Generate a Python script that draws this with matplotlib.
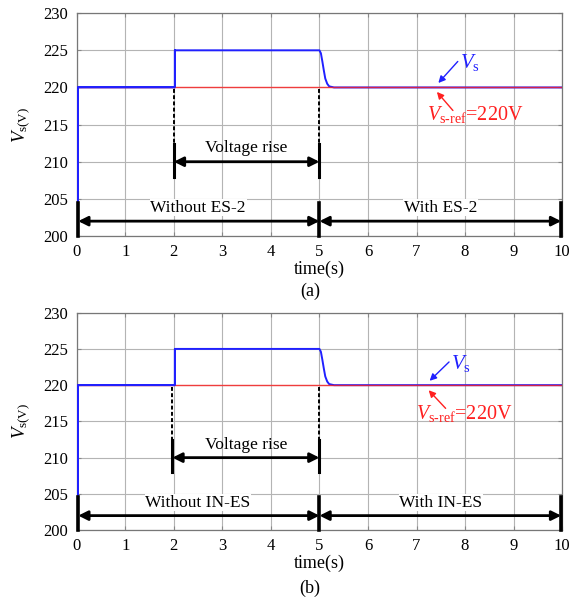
import matplotlib
matplotlib.use("Agg")
import matplotlib.pyplot as plt

plt.rcParams['font.family'] = ['Liberation Serif', 'DejaVu Serif']
plt.rcParams['mathtext.fontset'] = 'custom'
plt.rcParams['mathtext.rm'] = 'Liberation Serif'
plt.rcParams['mathtext.it'] = 'Liberation Serif:italic'

# measured voltage Vs (same shape in both panels)
t_vs = [0.0, 0.02, 0.02, 2.02, 2.02, 5.0, 5.03, 5.06, 5.09, 5.12, 5.16, 5.2, 5.3, 10.0]
vs = [200, 200, 220, 220, 225, 225, 224.6, 223.5, 222.3, 221.2, 220.5, 220.15, 220.0, 220.0]
# reference voltage
t_ref = [0.0, 10.0]
vs_ref = [220, 220]

panels = ['(a)', '(b)']
left_text = ['Without ES-2', 'Without IN-ES']
right_text = ['With ES-2', 'With IN-ES']
rise_start = [2.0, 1.97]
rise_end = 5.0

fig = plt.figure(figsize=(5.73, 5.99), dpi=100)
axes = [fig.add_axes([0.134, 0.606, 0.847, 0.372]),
        fig.add_axes([0.134, 0.115, 0.847, 0.363])]

vs_txt = [(7.9, 223.3), (7.72, 223.0)]
vs_tip = [(7.45, 220.6), (7.27, 220.6)]
ref_txt = [(7.22, 216.3), (6.98, 216.1)]
ref_tip = [(7.42, 219.4), (7.25, 219.3)]
ref_tail = [(7.75, 216.9), (7.6, 216.8)]

for i, ax in enumerate(axes):
    ax.plot(t_vs, vs, color='#2020ff', lw=1.4, zorder=3)
    ax.plot(t_ref, vs_ref, color='#ff2020', lw=1.0, alpha=0.8, zorder=4)
    ax.plot(t_vs[:5], vs[:5], color='#2020ff', lw=1.4, zorder=5)

    ax.set_xlim(0, 10)
    ax.set_ylim(200, 230)
    ax.set_xticks(range(0, 11))
    ax.set_yticks(range(200, 231, 5))
    ax.grid(True, color='#b4b4b4', lw=0.8)
    ax.tick_params(direction='in', length=3, labelsize=12, color='#888888',
                   top=True, right=True, pad=6)
    for s in ax.spines.values():
        s.set_color('#777777')
        s.set_linewidth(0.9)
    ax.set_xlabel('time(s)', fontsize=13, labelpad=0)
    ax.set_ylabel(r'$V_{\rm s(V)}$', fontsize=13.5, labelpad=8)

    x0 = rise_start[i]
    # dashed guides
    ax.plot([x0, x0], [219.8, 212.4], color='black', lw=1.4, ls=(0, (2, 1.2)), zorder=6)
    ax.plot([rise_end, rise_end], [219.8, 212.4], color='black', lw=1.4, ls=(0, (2, 1.2)), zorder=6)
    # solid end bars
    ax.plot([x0, x0], [212.4, 208.0], color='black', lw=2.2, zorder=6)
    ax.plot([rise_end, rise_end], [212.4, 208.0], color='black', lw=2.2, zorder=6)
    ax.annotate('', xy=(rise_end, 210), xytext=(x0, 210),
                arrowprops=dict(arrowstyle='<|-|>', color='black', lw=2,
                                mutation_scale=14, shrinkA=0, shrinkB=0), zorder=6)
    ax.text((x0 + rise_end) / 2, 211.8, 'Voltage rise', ha='center', va='center',
            fontsize=12.5, zorder=7)

    for xb in [0.03, 5.0, 9.98]:
        ax.plot([xb, xb], [200, 204.5], color='black', lw=2.6, zorder=6, clip_on=False)
    ax.annotate('', xy=(5.0, 202), xytext=(0.03, 202),
                arrowprops=dict(arrowstyle='<|-|>', color='black', lw=2,
                                mutation_scale=14, shrinkA=0, shrinkB=0), zorder=6)
    ax.annotate('', xy=(9.98, 202), xytext=(5.0, 202),
                arrowprops=dict(arrowstyle='<|-|>', color='black', lw=2,
                                mutation_scale=14, shrinkA=0, shrinkB=0), zorder=6)
    ax.text(2.5, 203.8, left_text[i], ha='center', va='center', fontsize=12.5,
            zorder=7, bbox=dict(fc='white', ec='none', pad=0.5))
    ax.text(7.5, 203.8, right_text[i], ha='center', va='center', fontsize=12.5,
            zorder=7, bbox=dict(fc='white', ec='none', pad=0.5))

    # Vs label and arrow
    ax.annotate('', xy=vs_tip[i], xytext=(vs_txt[i][0] - 0.05, vs_txt[i][1] + 0.2),
                arrowprops=dict(arrowstyle='-|>', color='#2020ff', lw=1,
                                mutation_scale=10, shrinkA=0, shrinkB=0), zorder=8)
    ax.text(vs_txt[i][0], vs_txt[i][1], r'$V_{\rm s}$', color='#2020ff',
            fontsize=15, va='center', ha='left', zorder=8)
    # Vs-ref label and arrow
    ax.annotate('', xy=ref_tip[i], xytext=ref_tail[i],
                arrowprops=dict(arrowstyle='-|>', color='#ff2020', lw=1,
                                mutation_scale=10, shrinkA=0, shrinkB=0), zorder=8)
    ax.text(ref_txt[i][0], ref_txt[i][1], r'$V_{\rm s\text{-}ref}$=220V', color='#ff2020',
            fontsize=14.5, va='center', ha='left', zorder=8)

fig.text(310 / 573, 1 - 291 / 599, panels[0], ha='center', va='center', fontsize=13)
fig.text(310 / 573, 1 - 588 / 599, panels[1], ha='center', va='center', fontsize=13)

plt.savefig('out.png', dpi=100)
